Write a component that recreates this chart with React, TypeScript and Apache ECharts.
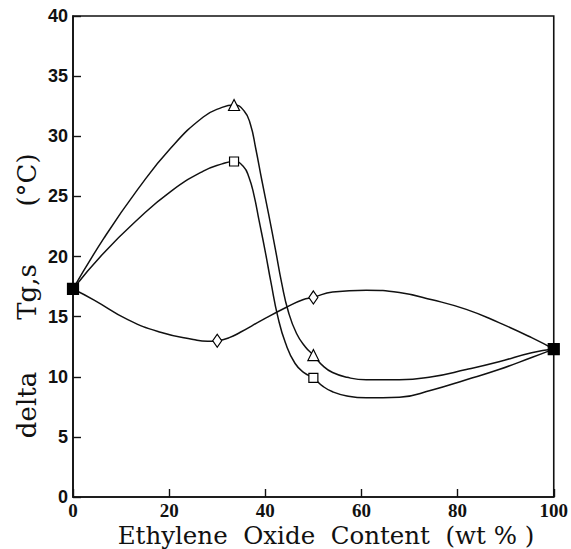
import React, { useEffect, useRef } from "react";
import * as echarts from "echarts";

// Marker (measured) points
const endpointX = [0, 100];
const endpointY = [17.3, 12.3];
const triangleX = [33.5, 50];
const triangleY = [32.6, 11.8];
const squareX = [33.5, 50];
const squareY = [27.9, 9.9];
const diamondX = [30, 50];
const diamondY = [13.0, 16.6];

// Fitted curves
const triCurveX = [0, 6.4, 13.5, 20.3, 27.1, 31, 33.5, 35.6, 36.9, 38.0, 39.3, 40.7, 42.1, 43.4, 44.8, 46.5, 48.3, 50, 52, 54, 57, 61, 67.9, 74.7, 81.8, 88.6, 95.4, 100];
const triCurveY = [17.3, 21.5, 25.6, 29.0, 31.6, 32.4, 32.6, 32.1, 31.0, 29.0, 26.3, 23.5, 20.6, 17.8, 15.4, 13.6, 12.5, 11.8, 10.9, 10.35, 9.95, 9.75, 9.75, 10, 10.6, 11.25, 12, 12.3];
const sqCurveX = [0, 6.4, 13.5, 20.3, 27.1, 31, 33.5, 35.4, 36.6, 37.7, 38.7, 39.9, 41.2, 42.6, 44.2, 46.2, 48.2, 50, 52, 54, 57, 61, 67.9, 74.7, 81.8, 88.6, 95.4, 100];
const sqCurveY = [17.3, 20.3, 23.1, 25.4, 27.1, 27.7, 27.9, 27.5, 26.6, 25.0, 23.0, 20.6, 17.8, 15.0, 12.8, 11.1, 10.3, 9.9, 9.2, 8.75, 8.4, 8.25, 8.3, 8.9, 9.75, 10.6, 11.6, 12.3];
const diaCurveX = [0, 4.3, 11.4, 18.2, 25, 28, 30, 32.5, 34.8, 39.5, 44.5, 47.8, 50, 54, 61, 67.9, 74.7, 81.8, 88.6, 95.4, 100];
const diaCurveY = [17.3, 16.4, 14.75, 13.7, 13.1, 12.95, 13.0, 13.25, 13.7, 14.75, 15.8, 16.4, 16.6, 17.05, 17.2, 17.0, 16.4, 15.6, 14.5, 13.25, 12.3];

const xTicks = [0, 20, 40, 60, 80, 100];
const yTicks = [0, 5, 10, 15, 20, 25, 30, 35, 40];
const xTitle = "Ethylene  Oxide  Content  (wt % )";
const yTitleParts = ["delta", "Tg,s", "(°C)"];

const zip = (xs: number[], ys: number[]) => xs.map((x, i) => [x, ys[i]]);

export default function App() {
  const ref = useRef<HTMLDivElement>(null);
  useEffect(() => {
    if (!ref.current) return;
    const chart = echarts.init(ref.current, null, { renderer: "svg" });
    const lineStyle = { color: "#111", width: 1.5 };
    const curve = (xs: number[], ys: number[]) => ({
      type: "line",
      data: zip(xs, ys),
      smooth: 0.5,
      showSymbol: false,
      symbol: "none",
      lineStyle,
      z: 2,
      silent: true,
    });
    const marker = (xs: number[], ys: number[], symbol: string, size: any, filled = false) => ({
      type: "scatter",
      data: zip(xs, ys),
      symbol,
      symbolSize: size,
      itemStyle: { color: filled ? "#000" : "#fff", borderColor: "#000", borderWidth: 1.2, opacity: 1 },
      z: 5,
      silent: true,
    });
    const yCenters = [405, 292, 180];
    chart.setOption({
      animation: false,
      backgroundColor: "#fff",
      grid: {
        left: 73, right: 16, top: 16, bottom: 52,
        show: true, borderColor: "#111", borderWidth: 1.6, backgroundColor: "transparent",
      },
      xAxis: {
        type: "value", min: 0, max: 100, interval: 20,
        axisLine: { show: true, lineStyle: { color: "#111", width: 1.6 } },
        axisTick: { show: true, inside: true, length: 8, lineStyle: { color: "#111", width: 1.4 } },
        splitLine: { show: false },
        axisLabel: {
          color: "#111", fontFamily: "Liberation Serif", fontWeight: "bold", fontSize: 19, margin: 4,
          formatter: (v: number) => (xTicks.includes(v) ? String(v) : ""),
        },
      },
      yAxis: {
        type: "value", min: 0, max: 40, interval: 5,
        axisLine: { show: true, lineStyle: { color: "#111", width: 1.6 } },
        axisTick: { show: true, inside: true, length: 8, lineStyle: { color: "#111", width: 1.4 } },
        splitLine: { show: false },
        axisLabel: {
          color: "#111", fontFamily: "Liberation Sans", fontWeight: "bold", fontSize: 18, margin: 5,
          formatter: (v: number) => (yTicks.includes(v) ? String(v) : ""),
        },
      },
      graphic: [
        {
          type: "text", x: 326, y: 535,
          style: { text: xTitle, fill: "#111", font: "24.5px 'DejaVu Serif'", align: "center", verticalAlign: "middle" },
        },
        ...yTitleParts.map((t, i) => ({
          type: "text", x: 27, y: yCenters[i], rotation: Math.PI / 2,
          style: { text: t, fill: "#111", font: "26px 'DejaVu Serif'", align: "center", verticalAlign: "middle" },
        })),
      ],
      series: [
        curve(triCurveX, triCurveY),
        curve(sqCurveX, sqCurveY),
        curve(diaCurveX, diaCurveY),
        marker(triangleX, triangleY, "triangle", 11),
        marker(squareX, squareY, "rect", 9),
        marker(diamondX, diamondY, "diamond", [9, 13]),
        marker(endpointX, endpointY, "rect", 11, true),
      ],
    });
    return () => chart.dispose();
  }, []);
  return <div ref={ref} style={{ position: "fixed", left: 0, top: 0, width: 571, height: 549 }} />;
}
